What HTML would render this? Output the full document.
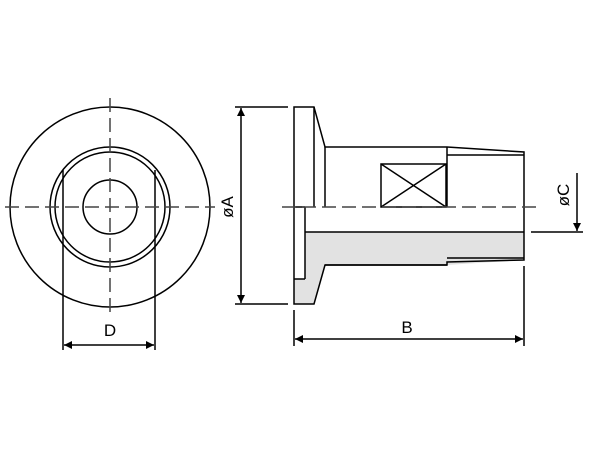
<!DOCTYPE html>
<html><head><style>html,body{margin:0;padding:0;background:#fff}svg{display:block}</style></head>
<body>
<svg width="600" height="450" viewBox="0 0 600 450" xmlns="http://www.w3.org/2000/svg">
<defs>
<marker id="ar" viewBox="0 0 10 10" refX="10" refY="5" markerWidth="15" markerHeight="8" markerUnits="userSpaceOnUse" orient="auto-start-reverse">
<path d="M0,0 L10,5 L0,10 z" fill="#000"/></marker>
</defs>
<g fill="none" stroke="#000" stroke-width="1.5">
<circle cx="110" cy="207" r="100"/>
<circle cx="110" cy="207" r="60"/>
<circle cx="110" cy="207" r="55"/>
<circle cx="110" cy="207" r="27"/>
<line x1="63" y1="170" x2="63" y2="350"/>
<line x1="155" y1="170" x2="155" y2="350"/>
<line x1="64" y1="345" x2="154" y2="345" marker-start="url(#ar)" marker-end="url(#ar)"/>
<path d="M305,232 L524,232 L524,260 L447,265 L325,265 L314,304 L294,304 L294,279 L305,279 Z" fill="#e2e2e2" stroke="none"/>
<path d="M294,107 L314,107 L325,147 L447,147 L524,152 L524,260 L447,262 L447,265 L325,265 L314,304 L294,304 Z"/>
<line x1="447" y1="147" x2="447" y2="207"/>
<line x1="447" y1="155" x2="524" y2="155"/>
<line x1="447" y1="258" x2="524" y2="258"/>
<line x1="314" y1="107" x2="314" y2="207"/>
<line x1="325" y1="147" x2="325" y2="207"/>
<line x1="305" y1="232" x2="524" y2="232"/>
<line x1="305" y1="207" x2="305" y2="279"/>
<line x1="294" y1="207" x2="305" y2="207"/>
<line x1="294" y1="279" x2="305" y2="279"/>
<line x1="325" y1="265" x2="447" y2="265"/>
<rect x="381" y="164" width="65" height="43"/>
<line x1="381" y1="164" x2="446" y2="207"/>
<line x1="446" y1="164" x2="381" y2="207"/>
<line x1="235" y1="107" x2="288" y2="107"/>
<line x1="235" y1="304" x2="288" y2="304"/>
<line x1="241" y1="108" x2="241" y2="303" marker-start="url(#ar)" marker-end="url(#ar)"/>
<line x1="531" y1="232" x2="583" y2="232"/>
<line x1="577" y1="173" x2="577" y2="231" marker-end="url(#ar)"/>
<line x1="294" y1="310" x2="294" y2="346"/>
<line x1="524" y1="266" x2="524" y2="346"/>
<line x1="295" y1="339" x2="523" y2="339" marker-start="url(#ar)" marker-end="url(#ar)"/>
</g>
<g stroke="#444" stroke-width="1.5" stroke-dasharray="14,6" fill="none">
<line x1="5" y1="207" x2="215" y2="207"/>
<line x1="110" y1="98" x2="110" y2="312"/>
<line x1="282" y1="207" x2="537" y2="207"/>
</g>
<g font-family="Liberation Sans, sans-serif" font-size="17" fill="#000" text-anchor="middle">
<text x="110" y="336">D</text>
<text x="407" y="333">B</text>
<text transform="translate(233,207) rotate(-90)">øA</text>
<text transform="translate(569,195) rotate(-90)">øC</text>
</g>
</svg>
</body></html>
